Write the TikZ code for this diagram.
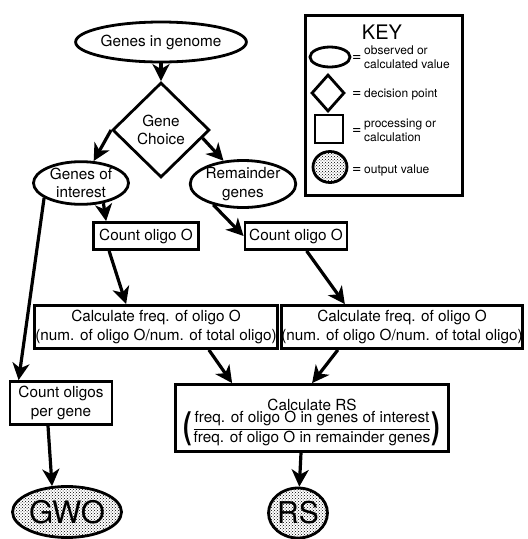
\documentclass[tikz,border=0pt]{standalone}
\usepackage{amsmath}
\usepackage{graphicx}
\usepackage{fontspec}
\setmainfont{TeX Gyre Heros}
\usetikzlibrary{arrows.meta,shapes.geometric,patterns}
\tikzset{
  every picture/.style={>=Stealth},
  txt/.style={font=\fontsize{15.3}{18.5}\selectfont},
  keytxt/.style={font=\fontsize{12}{14}\selectfont, align=left, anchor=west, inner sep=0pt},
  keyeq/.style={font=\fontsize{16}{16}\selectfont, anchor=west, inner sep=0pt},
  valnode/.style={ellipse, draw, line width=2.8pt, inner sep=0pt, align=center, txt},
  decision/.style={diamond, draw, line width=2.8pt, inner sep=0pt, align=center, txt},
  procbox/.style={rectangle, draw, line width=2.8pt, inner sep=0pt, align=center, txt},
  outnode/.style={ellipse, draw, line width=2.8pt, inner sep=0pt, pattern=crosshatch dots},
  arr/.style={line width=3.2pt, -{Stealth[length=17pt,width=17pt,inset=5pt]}},
}
\newcommand{\bigparen}[1]{\vcenter{\hbox{\scalebox{1.7}[2.4]{\bfseries#1}}}}

\begin{document}
\begin{tikzpicture}[x=1pt,y=-1pt]
\useasboundingbox (0,0) rectangle (528,539);
% flow chart
\node[valnode, minimum width=152pt, minimum height=40pt] (gig) at (161,42) {Genes in genome};
\node[decision, minimum width=97pt, minimum height=95pt] (gc) at (161,130) {Gene\\Choice};
\node[valnode, minimum width=95pt, minimum height=39pt] (goi) at (81,183) {Genes of\\interest};
\node[valnode, minimum width=105pt, minimum height=47pt] (rem) at (243,184) {Remainder\\genes};
\node[procbox, minimum width=105pt, minimum height=27pt] (cnt1) at (146,236) {Count oligo O};
\node[procbox, minimum width=102pt, minimum height=27pt] (cnt2) at (296,236) {Count oligo O};
\node[procbox, minimum width=243pt, minimum height=43pt] (calc1) at (156,327) {Calculate freq. of oligo O\\(num. of oligo O/num. of total oligo)};
\node[procbox, minimum width=240pt, minimum height=43pt] (calc2) at (402,327) {Calculate freq. of oligo O\\(num. of oligo O/num. of total oligo)};
\node[procbox, minimum width=102pt, minimum height=43pt] (perg) at (61,403) {Count oligos\\per gene};
\node[procbox, minimum width=273pt, minimum height=67pt] (rsbox) at (312,418) {\rule{0pt}{20pt}Calculate RS\\[0pt]$\bigparen{(}\dfrac{\text{freq. of oligo O in genes of interest}}{\text{freq. of oligo O in remainder genes}}\bigparen{)}$};
\node[outnode, minimum width=109pt, minimum height=51pt, font=\fontsize{31}{31}\selectfont] (gwo) at (67,512) {GWO};
\node[outnode, minimum width=57pt, minimum height=50pt, font=\fontsize{30}{30}\selectfont] (rs) at (298,513) {RS};

\draw[arr] (gig) -- (gc);
\draw[arr] (gc.west) -- (goi.60);
\draw[arr] (gc.-11) -- (rem.130);
\draw[arr] (goi.-42) -- ([xshift=14pt]cnt1.north west);
\draw[arr] (goi.-158) -- ([xshift=10pt]perg.north west);
\draw[arr] (rem.-145) -- (cnt2.west);
\draw[arr] ([xshift=17pt]cnt1.south west) -- ([xshift=93pt]calc1.north west);
\draw[arr] ([xshift=63pt]cnt2.south west) -- ([xshift=65pt]calc2.north west);
\draw[arr] ([xshift=-70pt]calc1.south east) -- ([xshift=58pt]rsbox.north west);
\draw[arr] ([xshift=58pt]calc2.south west) -- ([xshift=138pt]rsbox.north west);
\draw[arr] ([xshift=-11pt]rsbox.south) -- (rs);
\draw[arr] ([xshift=-13pt]perg.south) -- (gwo.120);

% key
\draw[line width=3pt] (305,15) rectangle (462,195);
\node[font=\fontsize{20}{24}\selectfont] (keyttl) at (382,32) {KEY};
\node[valnode, minimum width=40pt, minimum height=20pt] (kval) at (330,57) {};
\node[keyeq] (kvaleq) at (352,58) {=};
\node[keytxt] (kvalt) at (364,57) {observed or\\calculated value};
\node[decision, minimum width=33pt, minimum height=37pt] (kdec) at (328,93) {};
\node[keyeq] (kdeceq) at (352,94) {=};
\node[keytxt] (kdect) at (364,94) {decision point};
\node[procbox, minimum width=28pt, minimum height=28pt] (kproc) at (329,129) {};
\node[keyeq] (kproceq) at (352,131) {=};
\node[keytxt] (kproct) at (364,130) {processing or\\calculation};
\node[outnode, minimum width=34pt, minimum height=31pt] (kout) at (330,167) {};
\node[keyeq] (kouteq) at (352,170) {=};
\node[keytxt] (koutt) at (364,170) {output value};
\end{tikzpicture}
\end{document}
